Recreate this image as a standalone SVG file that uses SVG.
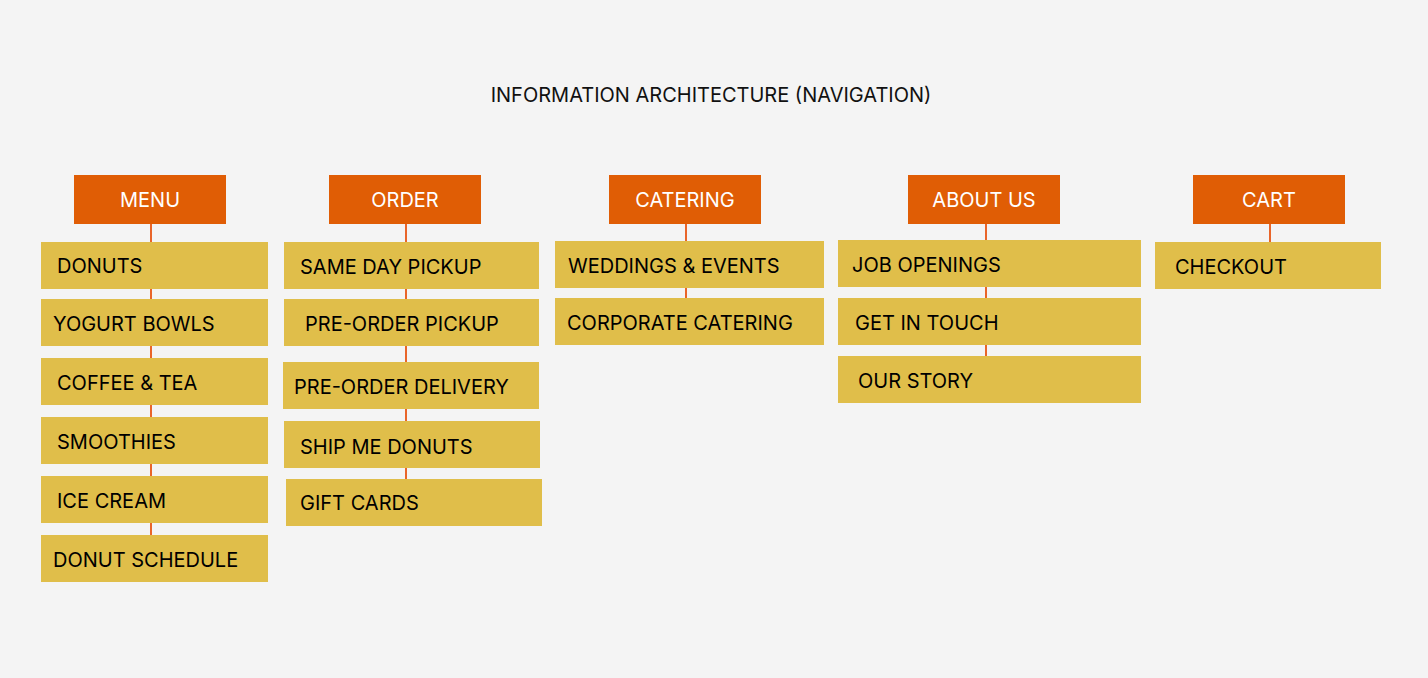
<svg xmlns="http://www.w3.org/2000/svg" width="1428" height="678" viewBox="0 0 1428 678">
<style>
.h{fill:#E05D05}
.i{fill:#E0BE4A}
.ht{font-family:Inter,"Liberation Sans",sans-serif;font-size:20px;fill:#fff;text-anchor:middle}
.it{font-family:Inter,"Liberation Sans",sans-serif;font-size:20px;fill:#000}
.c{stroke:#E9652A;stroke-width:2}
</style>
<rect width="1428" height="678" fill="#F4F4F4"/>
<text x="711" y="102" text-anchor="middle" font-family="Inter,'Liberation Sans',sans-serif" font-size="20" fill="#111">INFORMATION ARCHITECTURE (NAVIGATION)</text>
<g id="connectors">
<line class="c" x1="151" y1="224" x2="151" y2="535"/>
<line class="c" x1="406" y1="224" x2="406" y2="479"/>
<line class="c" x1="686" y1="224" x2="686" y2="298"/>
<line class="c" x1="986" y1="224" x2="986" y2="356"/>
<line class="c" x1="1270" y1="224" x2="1270" y2="242"/>
</g>
<g id="menu"><rect class="h" x="74" y="175" width="152" height="49"/><text class="ht" x="150" y="207">MENU</text></g>
<g id="order"><rect class="h" x="329" y="175" width="152" height="49"/><text class="ht" x="405" y="207">ORDER</text></g>
<g id="catering"><rect class="h" x="609" y="175" width="152" height="49"/><text class="ht" x="685" y="207">CATERING</text></g>
<g id="about"><rect class="h" x="908" y="175" width="152" height="49"/><text class="ht" x="984" y="207">ABOUT US</text></g>
<g id="cart"><rect class="h" x="1193" y="175" width="152" height="49"/><text class="ht" x="1269" y="207">CART</text></g>
<g id="donuts"><rect class="i" x="41" y="242" width="227" height="47"/><text class="it" x="57" y="273">DONUTS</text></g>
<g id="yogurt"><rect class="i" x="41" y="299" width="227" height="47"/><text class="it" x="53" y="331">YOGURT BOWLS</text></g>
<g id="coffee"><rect class="i" x="41" y="358" width="227" height="47"/><text class="it" x="57" y="390">COFFEE &amp; TEA</text></g>
<g id="smoothies"><rect class="i" x="41" y="417" width="227" height="47"/><text class="it" x="57" y="449">SMOOTHIES</text></g>
<g id="icecream"><rect class="i" x="41" y="476" width="227" height="47"/><text class="it" x="57" y="508">ICE CREAM</text></g>
<g id="schedule"><rect class="i" x="41" y="535" width="227" height="47"/><text class="it" x="53" y="567">DONUT SCHEDULE</text></g>
<g id="sameday"><rect class="i" x="284" y="242" width="255" height="47"/><text class="it" x="300" y="274">SAME DAY PICKUP</text></g>
<g id="preorderpickup"><rect class="i" x="284" y="299" width="255" height="47"/><text class="it" x="305" y="331">PRE-ORDER PICKUP</text></g>
<g id="preorderdelivery"><rect class="i" x="283" y="362" width="256" height="47"/><text class="it" x="294" y="394">PRE-ORDER DELIVERY</text></g>
<g id="ship"><rect class="i" x="284" y="421" width="256" height="47"/><text class="it" x="300" y="454">SHIP ME DONUTS</text></g>
<g id="gift"><rect class="i" x="286" y="479" width="256" height="47"/><text class="it" x="300" y="510">GIFT CARDS</text></g>
<g id="weddings"><rect class="i" x="555" y="241" width="269" height="47"/><text class="it" x="568" y="273">WEDDINGS &amp; EVENTS</text></g>
<g id="corporate"><rect class="i" x="555" y="298" width="269" height="47"/><text class="it" x="567" y="330">CORPORATE CATERING</text></g>
<g id="jobs"><rect class="i" x="838" y="240" width="303" height="47"/><text class="it" x="852" y="272">JOB OPENINGS</text></g>
<g id="touch"><rect class="i" x="838" y="298" width="303" height="47"/><text class="it" x="855" y="330">GET IN TOUCH</text></g>
<g id="story"><rect class="i" x="838" y="356" width="303" height="47"/><text class="it" x="858" y="388">OUR STORY</text></g>
<g id="checkout"><rect class="i" x="1155" y="242" width="226" height="47"/><text class="it" x="1175" y="274">CHECKOUT</text></g>
</svg>
